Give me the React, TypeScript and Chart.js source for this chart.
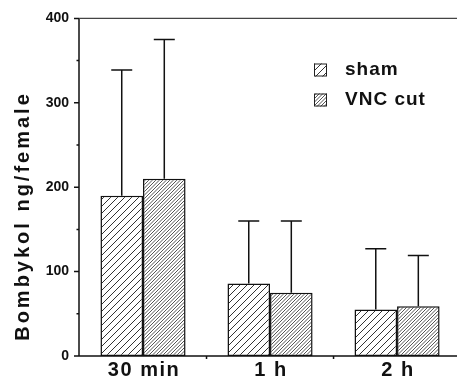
import React, { useEffect, useRef } from 'react';
import { Chart, registerables } from 'chart.js';
Chart.register(...registerables);

const categories = ['30 min', '1 h', '2 h'];
const seriesNames = ['sham', 'VNC cut'];
const shamMeans = [190, 86, 55];
const shamSD = [149, 74, 72];
const vncMeans = [210, 75, 59];
const vncSD = [165, 85, 60];
const yTicks = [0, 100, 200, 300, 400];
const yMinorTicks = [50, 150, 250, 350];

const FONT = '"Liberation Sans", Arial, Helvetica, sans-serif';

function makePattern(ctx: CanvasRenderingContext2D, spacing: number, lines: number, color: string, lw: number) {
  const size = spacing * lines;
  const c = document.createElement('canvas');
  c.width = size;
  c.height = size;
  const g = c.getContext('2d')!;
  g.fillStyle = '#fff';
  g.fillRect(0, 0, size, size);
  g.strokeStyle = color;
  g.lineWidth = lw;
  g.beginPath();
  for (let k = -size; k <= size + 0.01; k += spacing) {
    g.moveTo(k, size);
    g.lineTo(k + size, 0);
  }
  g.stroke();
  return ctx.createPattern(c, 'repeat')!;
}

export default function App() {
  const ref = useRef<HTMLCanvasElement | null>(null);
  useEffect(() => {
    const canvas = ref.current!;
    const ctx0 = canvas.getContext('2d')!;
    const shamPat = makePattern(ctx0, 7, 1, '#333', 1);
    const vncPat = makePattern(ctx0, 3.5, 2, '#555', 1);
    const pats = [shamPat, vncPat];
    const sds = [shamSD, vncSD];

    const decor = {
      id: 'decor',
      afterDatasetsDraw(chart: any) {
        const { ctx, chartArea: a, scales } = chart;
        const x = scales.x;
        const y = scales.y;
        ctx.save();
        // error bars
        chart.data.datasets.forEach((ds: any, di: number) => {
          const meta = chart.getDatasetMeta(di);
          meta.data.forEach((el: any, i: number) => {
            const v = ds.data[i].y;
            const top = y.getPixelForValue(v + sds[di][i]);
            ctx.strokeStyle = '#111';
            ctx.lineWidth = 1.5;
            ctx.beginPath();
            ctx.moveTo(el.x, el.y);
            ctx.lineTo(el.x, top);
            ctx.moveTo(el.x - 10.5, top);
            ctx.lineTo(el.x + 10.5, top);
            ctx.stroke();
          });
        });
        // axes
        ctx.strokeStyle = '#111';
        ctx.lineWidth = 1.5;
        ctx.beginPath();
        ctx.moveTo(a.left, a.top);
        ctx.lineTo(a.left, a.bottom);
        ctx.moveTo(a.left - 5, a.bottom);
        ctx.lineTo(a.right, a.bottom);
        yTicks.forEach((t) => {
          const py = y.getPixelForValue(t);
          ctx.moveTo(a.left - 5, py);
          ctx.lineTo(a.left, py);
        });
        yMinorTicks.forEach((t) => {
          const py = y.getPixelForValue(t);
          ctx.moveTo(a.left - 2.5, py);
          ctx.lineTo(a.left, py);
        });
        [0.5, 1.5].forEach((t) => {
          const px = x.getPixelForValue(t);
          ctx.moveTo(px, a.bottom);
          ctx.lineTo(px, a.bottom + 3);
        });
        ctx.stroke();
        ctx.strokeStyle = '#444';
        ctx.lineWidth = 1.2;
        ctx.beginPath();
        ctx.moveTo(a.left, a.top);
        ctx.lineTo(a.right, a.top);
        ctx.stroke();

        // x labels
        ctx.fillStyle = '#111';
        (ctx as any).letterSpacing = '1.5px';
        ctx.font = `bold 20px ${FONT}`;
        ctx.textAlign = 'center';
        ctx.textBaseline = 'alphabetic';
        categories.forEach((c, i) => {
          ctx.fillText(c, x.getPixelForValue(i) + 1, a.bottom + 20);
        });

        // y title
        ctx.save();
        (ctx as any).letterSpacing = '3px';
        ctx.translate(23, 216);
        ctx.rotate(-Math.PI / 2);
        ctx.font = `bold 20px ${FONT}`;
        ctx.textAlign = 'center';
        ctx.textBaseline = 'middle';
        ctx.fillText('Bombykol ng/female', 0, 0);
        ctx.restore();

        // legend
        (ctx as any).letterSpacing = '1px';
        ctx.font = `bold 19px ${FONT}`;
        ctx.textAlign = 'left';
        ctx.textBaseline = 'middle';
        seriesNames.forEach((n, i) => {
          const cy = 70 + i * 30;
          ctx.fillStyle = pats[i];
          ctx.fillRect(314, cy - 6.5, 13, 13);
          ctx.strokeStyle = '#222';
          ctx.lineWidth = 1;
          ctx.strokeRect(314.5, cy - 6, 12, 12);
          ctx.fillStyle = '#111';
          ctx.fillText(n, 345, cy);
        });
        (ctx as any).letterSpacing = '0px';
        ctx.restore();
      },
    };

    const chart = new Chart(canvas, {
      type: 'bar',
      data: {
        datasets: [
          {
            label: seriesNames[0],
            data: shamMeans.map((v, i) => ({ x: i, y: v })),
            backgroundColor: shamPat,
            borderColor: '#111',
            borderWidth: 1.5,
            borderSkipped: false,
            categoryPercentage: 0.67,
            barPercentage: 1,
          },
          {
            label: seriesNames[1],
            data: vncMeans.map((v, i) => ({ x: i, y: v })),
            backgroundColor: vncPat,
            borderColor: '#111',
            borderWidth: 1.5,
            borderSkipped: false,
            categoryPercentage: 0.67,
            barPercentage: 1,
          },
        ],
      } as any,
      options: {
        animation: false,
        responsive: false,
        layout: { padding: { top: 15, right: 0, bottom: 25, left: 0 } },
        plugins: { legend: { display: false }, tooltip: { enabled: false } },
        scales: {
          x: {
            type: 'linear',
            min: -0.504,
            max: 2.472,
            offset: false,
            display: false,
            afterBuildTicks: (s: any) => {
              s.ticks = categories.map((_, i) => ({ value: i }));
            },
          },
          y: {
            min: 0,
            max: 400,
            afterFit: (s: any) => {
              s.width = 79;
            },
            grid: { display: false, drawTicks: false },
            border: { display: false },
            ticks: {
              stepSize: 100,
              padding: 10,
              color: '#111',
              font: { family: FONT, size: 14, weight: 'bold' },
            },
          },
        },
      } as any,
      plugins: [decor],
    });
    return () => chart.destroy();
  }, []);

  return (
    <div style={{ position: 'absolute', left: 0, top: 0, width: 457, height: 381, background: '#fff' }}>
      <canvas ref={ref} width={457} height={381} />
    </div>
  );
}
